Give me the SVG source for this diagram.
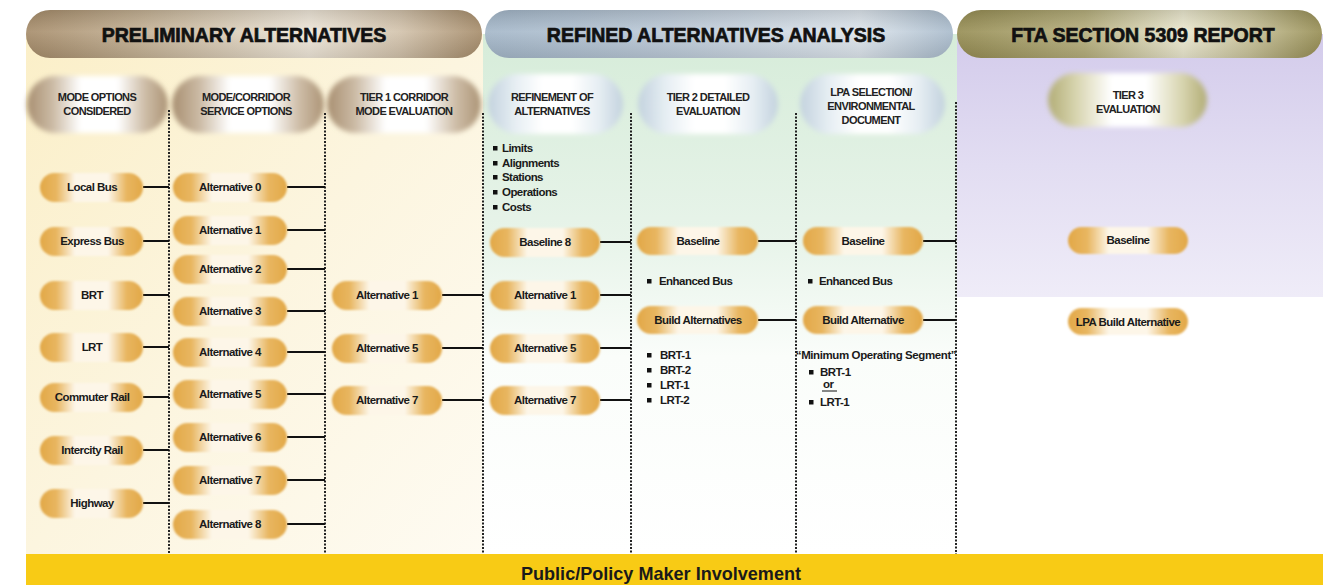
<svg xmlns="http://www.w3.org/2000/svg" width="1323" height="585" viewBox="0 0 1323 585">
<style>
.t{font-family:"Liberation Sans",Arial,sans-serif;font-weight:bold;font-size:11.5px;letter-spacing:-0.55px;fill:#1a1a1a}
.c{text-anchor:middle}
.hd{font-family:"Liberation Sans",Arial,sans-serif;font-weight:bold;font-size:11px;letter-spacing:-0.6px;fill:#222;text-anchor:middle}
.ban{font-family:"Liberation Sans",Arial,sans-serif;font-weight:bold;font-size:19.5px;fill:#111;stroke:#111;stroke-width:0.7;text-anchor:middle}
.pill{fill:url(#gPill);filter:url(#soft)}
.dash{stroke:#222;stroke-width:2;stroke-dasharray:2 1.5;fill:none}
.con line{stroke:#111;stroke-width:2}
.bul{fill:#111}
</style>
<defs>
<filter id="soft" x="-10%" y="-30%" width="120%" height="160%"><feGaussianBlur stdDeviation="0.9"/></filter>
<filter id="softH" x="-10%" y="-20%" width="120%" height="140%"><feGaussianBlur stdDeviation="2.5"/></filter>
<linearGradient id="gPill" x1="0" x2="1" y1="0" y2="0">
<stop offset="0" stop-color="#e2a848"/><stop offset="0.16" stop-color="#e8b660"/><stop offset="0.34" stop-color="#fdf6e8"/><stop offset="0.66" stop-color="#fdf6e8"/><stop offset="0.84" stop-color="#e8b660"/><stop offset="1" stop-color="#e2a848"/>
</linearGradient>
<linearGradient id="gBrown" x1="0" x2="1" y1="0" y2="0">
<stop offset="0" stop-color="#a88f71"/><stop offset="0.18" stop-color="#cbbaa4"/><stop offset="0.38" stop-color="#ffffff"/><stop offset="0.64" stop-color="#ffffff"/><stop offset="0.84" stop-color="#cdbca6"/><stop offset="1" stop-color="#ac9476"/>
</linearGradient>
<linearGradient id="gBlue" x1="0" x2="1" y1="0" y2="0">
<stop offset="0" stop-color="#c3d2de"/><stop offset="0.2" stop-color="#e6eef3"/><stop offset="0.4" stop-color="#ffffff"/><stop offset="0.62" stop-color="#ffffff"/><stop offset="0.82" stop-color="#e6eef3"/><stop offset="1" stop-color="#c3d2de"/>
</linearGradient>
<linearGradient id="gOlive" x1="0" x2="1" y1="0" y2="0">
<stop offset="0" stop-color="#b2ad76"/><stop offset="0.18" stop-color="#d8d5b0"/><stop offset="0.4" stop-color="#ffffff"/><stop offset="0.62" stop-color="#ffffff"/><stop offset="0.84" stop-color="#d8d5b0"/><stop offset="1" stop-color="#b2ad76"/>
</linearGradient>
<linearGradient id="bPre" x1="0" x2="1" y1="0" y2="0">
<stop offset="0" stop-color="#a58b69"/><stop offset="0.25" stop-color="#c3b093"/><stop offset="0.62" stop-color="#eee6d8"/><stop offset="0.82" stop-color="#d2c2ab"/><stop offset="1" stop-color="#a58b69"/>
</linearGradient>
<linearGradient id="bRef" x1="0" x2="1" y1="0" y2="0">
<stop offset="0" stop-color="#a3b6c8"/><stop offset="0.4" stop-color="#bccad8"/><stop offset="0.8" stop-color="#dde5ec"/><stop offset="1" stop-color="#a8bacb"/>
</linearGradient>
<linearGradient id="bFta" x1="0" x2="1" y1="0" y2="0">
<stop offset="0" stop-color="#958c52"/><stop offset="0.35" stop-color="#b5ae7c"/><stop offset="0.62" stop-color="#ebe8cf"/><stop offset="0.8" stop-color="#c9c39a"/><stop offset="1" stop-color="#958c52"/>
</linearGradient>
<linearGradient id="bShade" x1="0" x2="0" y1="0" y2="1">
<stop offset="0" stop-color="#000" stop-opacity="0.12"/><stop offset="0.45" stop-color="#fff" stop-opacity="0.1"/><stop offset="1" stop-color="#000" stop-opacity="0.1"/>
</linearGradient>
<linearGradient id="pLeft" x1="0" x2="1" y1="0" y2="1">
<stop offset="0" stop-color="#fbefc8"/><stop offset="0.5" stop-color="#fcf5df"/><stop offset="1" stop-color="#fefbf2"/>
</linearGradient>
<linearGradient id="pMid" x1="0" x2="0" y1="0" y2="1">
<stop offset="0" stop-color="#d6ecd9"/><stop offset="0.4" stop-color="#e8f4ea"/><stop offset="0.62" stop-color="#fafdfa"/><stop offset="1" stop-color="#ffffff"/>
</linearGradient>
<linearGradient id="pRight" x1="0" x2="0" y1="0" y2="1">
<stop offset="0" stop-color="#d3cbeb"/><stop offset="0.5" stop-color="#e2ddf2"/><stop offset="1" stop-color="#efecf8"/>
</linearGradient>
</defs>

<rect width="1323" height="585" fill="#ffffff"/>

<g id="panels">
<rect x="26" y="34" width="457" height="521" fill="url(#pLeft)"/>
<rect x="483" y="34" width="474" height="521" fill="url(#pMid)"/>
<rect x="957" y="34" width="366" height="263" fill="url(#pRight)"/>
</g>

<g id="banners">
<g id="banner-preliminary">
<rect x="26" y="10" width="456" height="48" rx="24" fill="url(#bPre)"/>
<rect x="26" y="10" width="456" height="48" rx="24" fill="url(#bShade)"/>
<text class="ban" x="244" y="42">PRELIMINARY ALTERNATIVES</text>
</g>
<g id="banner-refined">
<rect x="485" y="10" width="468" height="48" rx="24" fill="url(#bRef)"/>
<rect x="485" y="10" width="468" height="48" rx="24" fill="url(#bShade)"/>
<text class="ban" x="716" y="42">REFINED ALTERNATIVES ANALYSIS</text>
</g>
<g id="banner-fta">
<rect x="957" y="10" width="365" height="48" rx="24" fill="url(#bFta)"/>
<rect x="957" y="10" width="365" height="48" rx="24" fill="url(#bShade)"/>
<text class="ban" x="1143" y="42">FTA SECTION 5309 REPORT</text>
</g>
</g>

<g id="headers">
<g id="hdr-mode-options">
<rect x="27" y="76" width="141" height="57" rx="28.5" fill="url(#gBrown)" filter="url(#softH)"/>
<text class="hd" x="97" y="101">MODE OPTIONS</text>
<text class="hd" x="97" y="115">CONSIDERED</text>
</g>
<g id="hdr-mode-corridor">
<rect x="172" y="76" width="152" height="57" rx="28.5" fill="url(#gBrown)" filter="url(#softH)"/>
<text class="hd" x="246" y="101">MODE/CORRIDOR</text>
<text class="hd" x="246" y="115">SERVICE OPTIONS</text>
</g>
<g id="hdr-tier1">
<rect x="327" y="76" width="154" height="57" rx="28.5" fill="url(#gBrown)" filter="url(#softH)"/>
<text class="hd" x="404" y="101">TIER 1 CORRIDOR</text>
<text class="hd" x="404" y="115">MODE EVALUATION</text>
</g>
<g id="hdr-refinement">
<rect x="488" y="74" width="135" height="60" rx="30" fill="url(#gBlue)" filter="url(#softH)"/>
<text class="hd" x="552" y="101">REFINEMENT OF</text>
<text class="hd" x="552" y="115">ALTERNATIVES</text>
</g>
<g id="hdr-tier2">
<rect x="638" y="74" width="140" height="60" rx="30" fill="url(#gBlue)" filter="url(#softH)"/>
<text class="hd" x="708" y="101">TIER 2 DETAILED</text>
<text class="hd" x="708" y="115">EVALUATION</text>
</g>
<g id="hdr-lpa">
<rect x="800" y="74" width="145" height="60" rx="30" fill="url(#gBlue)" filter="url(#softH)"/>
<text class="hd" x="871" y="96">LPA SELECTION/</text>
<text class="hd" x="871" y="110">ENVIRONMENTAL</text>
<text class="hd" x="871" y="124">DOCUMENT</text>
</g>
<g id="hdr-tier3">
<rect x="1048" y="73" width="159" height="54" rx="27" fill="url(#gOlive)" filter="url(#softH)"/>
<text class="hd" x="1128" y="99">TIER 3</text>
<text class="hd" x="1128" y="113">EVALUATION</text>
</g>
</g>

<g id="dividers">
<line class="dash" x1="169" y1="110" x2="169" y2="554"/>
<line class="dash" x1="325" y1="113" x2="325" y2="554"/>
<line class="dash" x1="483" y1="113" x2="483" y2="554"/>
<line class="dash" x1="631" y1="113" x2="631" y2="554"/>
<line class="dash" x1="796" y1="113" x2="796" y2="554"/>
<line class="dash" x1="956" y1="102" x2="956" y2="554"/>
</g>

<g id="connectors" class="con">
<line x1="143" y1="187" x2="169" y2="187"/>
<line x1="143" y1="241" x2="169" y2="241"/>
<line x1="143" y1="295" x2="169" y2="295"/>
<line x1="143" y1="347" x2="169" y2="347"/>
<line x1="143" y1="397" x2="169" y2="397"/>
<line x1="143" y1="450" x2="169" y2="450"/>
<line x1="143" y1="503" x2="169" y2="503"/>
<line x1="287" y1="187" x2="325" y2="187"/>
<line x1="287" y1="230" x2="325" y2="230"/>
<line x1="287" y1="269" x2="325" y2="269"/>
<line x1="287" y1="311" x2="325" y2="311"/>
<line x1="287" y1="352" x2="325" y2="352"/>
<line x1="287" y1="394" x2="325" y2="394"/>
<line x1="287" y1="437" x2="325" y2="437"/>
<line x1="287" y1="480" x2="325" y2="480"/>
<line x1="287" y1="524" x2="325" y2="524"/>
<line x1="442" y1="295" x2="483" y2="295"/>
<line x1="442" y1="348" x2="483" y2="348"/>
<line x1="442" y1="400" x2="483" y2="400"/>
<line x1="600" y1="242" x2="631" y2="242"/>
<line x1="600" y1="295" x2="631" y2="295"/>
<line x1="600" y1="348" x2="631" y2="348"/>
<line x1="600" y1="400" x2="631" y2="400"/>
<line x1="758" y1="241" x2="796" y2="241"/>
<line x1="758" y1="320" x2="796" y2="320"/>
<line x1="923" y1="241" x2="956" y2="241"/>
<line x1="923" y1="320" x2="956" y2="320"/>
</g>

<g id="mode-options">
<g id="n-local-bus"><rect class="pill" x="40" y="173" width="103" height="29" rx="14.5"/><text class="t c" x="92" y="191">Local Bus</text></g>
<g id="n-express-bus"><rect class="pill" x="40" y="227" width="103" height="29" rx="14.5"/><text class="t c" x="92" y="245">Express Bus</text></g>
<g id="n-brt"><rect class="pill" x="40" y="281" width="103" height="29" rx="14.5"/><text class="t c" x="92" y="299">BRT</text></g>
<g id="n-lrt"><rect class="pill" x="40" y="333" width="103" height="29" rx="14.5"/><text class="t c" x="92" y="351">LRT</text></g>
<g id="n-commuter-rail"><rect class="pill" x="40" y="383" width="103" height="29" rx="14.5"/><text class="t c" x="92" y="401">Commuter Rail</text></g>
<g id="n-intercity-rail"><rect class="pill" x="40" y="436" width="103" height="29" rx="14.5"/><text class="t c" x="92" y="454">Intercity Rail</text></g>
<g id="n-highway"><rect class="pill" x="40" y="489" width="103" height="29" rx="14.5"/><text class="t c" x="92" y="507">Highway</text></g>
</g>

<g id="service-options">
<g id="n-alt0"><rect class="pill" x="173" y="173" width="114" height="29" rx="14.5"/><text class="t c" x="230" y="191">Alternative 0</text></g>
<g id="n-alt1"><rect class="pill" x="173" y="216" width="114" height="29" rx="14.5"/><text class="t c" x="230" y="234">Alternative 1</text></g>
<g id="n-alt2"><rect class="pill" x="173" y="255" width="114" height="29" rx="14.5"/><text class="t c" x="230" y="273">Alternative 2</text></g>
<g id="n-alt3"><rect class="pill" x="173" y="297" width="114" height="29" rx="14.5"/><text class="t c" x="230" y="315">Alternative 3</text></g>
<g id="n-alt4"><rect class="pill" x="173" y="338" width="114" height="29" rx="14.5"/><text class="t c" x="230" y="356">Alternative 4</text></g>
<g id="n-alt5"><rect class="pill" x="173" y="380" width="114" height="29" rx="14.5"/><text class="t c" x="230" y="398">Alternative 5</text></g>
<g id="n-alt6"><rect class="pill" x="173" y="423" width="114" height="29" rx="14.5"/><text class="t c" x="230" y="441">Alternative 6</text></g>
<g id="n-alt7"><rect class="pill" x="173" y="466" width="114" height="29" rx="14.5"/><text class="t c" x="230" y="484">Alternative 7</text></g>
<g id="n-alt8"><rect class="pill" x="173" y="510" width="114" height="29" rx="14.5"/><text class="t c" x="230" y="528">Alternative 8</text></g>
</g>

<g id="tier1">
<g id="t1-alt1"><rect class="pill" x="332" y="281" width="110" height="29" rx="14.5"/><text class="t c" x="387" y="299">Alternative 1</text></g>
<g id="t1-alt5"><rect class="pill" x="332" y="334" width="110" height="29" rx="14.5"/><text class="t c" x="387" y="352">Alternative 5</text></g>
<g id="t1-alt7"><rect class="pill" x="332" y="386" width="110" height="29" rx="14.5"/><text class="t c" x="387" y="404">Alternative 7</text></g>
</g>

<g id="refinement">
<g id="refinement-list">
<rect class="bul" x="493" y="146" width="4.5" height="4.5"/><text class="t" x="502" y="152">Limits</text>
<rect class="bul" x="493" y="161" width="4.5" height="4.5"/><text class="t" x="502" y="167">Alignments</text>
<rect class="bul" x="493" y="175" width="4.5" height="4.5"/><text class="t" x="502" y="181">Stations</text>
<rect class="bul" x="493" y="190" width="4.5" height="4.5"/><text class="t" x="502" y="196">Operations</text>
<rect class="bul" x="493" y="205" width="4.5" height="4.5"/><text class="t" x="502" y="211">Costs</text>
</g>
<g id="r-baseline8"><rect class="pill" x="490" y="228" width="110" height="29" rx="14.5"/><text class="t c" x="545" y="246">Baseline 8</text></g>
<g id="r-alt1"><rect class="pill" x="490" y="281" width="110" height="29" rx="14.5"/><text class="t c" x="545" y="299">Alternative 1</text></g>
<g id="r-alt5"><rect class="pill" x="490" y="334" width="110" height="29" rx="14.5"/><text class="t c" x="545" y="352">Alternative 5</text></g>
<g id="r-alt7"><rect class="pill" x="490" y="386" width="110" height="29" rx="14.5"/><text class="t c" x="545" y="404">Alternative 7</text></g>
</g>

<g id="tier2">
<g id="t2-baseline"><rect class="pill" x="637" y="227" width="121" height="28" rx="14"/><text class="t c" x="698" y="245">Baseline</text></g>
<g id="t2-enhanced"><rect class="bul" x="647" y="279" width="4.5" height="4.5"/><text class="t" x="659" y="285">Enhanced Bus</text></g>
<g id="t2-build"><rect class="pill" x="637" y="306" width="121" height="28" rx="14"/><text class="t c" x="698" y="324">Build Alternatives</text></g>
<g id="t2-list">
<rect class="bul" x="647" y="353" width="4.5" height="4.5"/><text class="t" x="660" y="359">BRT-1</text>
<rect class="bul" x="647" y="368" width="4.5" height="4.5"/><text class="t" x="660" y="374">BRT-2</text>
<rect class="bul" x="647" y="383" width="4.5" height="4.5"/><text class="t" x="660" y="389">LRT-1</text>
<rect class="bul" x="647" y="398" width="4.5" height="4.5"/><text class="t" x="660" y="404">LRT-2</text>
</g>
</g>

<g id="lpa">
<g id="l-baseline"><rect class="pill" x="803" y="227" width="120" height="28" rx="14"/><text class="t c" x="863" y="245">Baseline</text></g>
<g id="l-enhanced"><rect class="bul" x="808" y="279" width="4.5" height="4.5"/><text class="t" x="819" y="285">Enhanced Bus</text></g>
<g id="l-build"><rect class="pill" x="803" y="306" width="120" height="28" rx="14"/><text class="t c" x="863" y="324">Build Alternative</text></g>
<g id="l-mos">
<text class="t c" x="876" y="359" style="letter-spacing:-0.4px">“Minimum Operating Segment”</text>
<rect class="bul" x="809" y="370" width="4.5" height="4.5"/><text class="t" x="820" y="376">BRT-1</text>
<text class="t" x="823" y="388">or</text>
<line x1="822" y1="391" x2="837" y2="391" stroke="#111" stroke-width="1"/>
<rect class="bul" x="809" y="400" width="4.5" height="4.5"/><text class="t" x="820" y="406">LRT-1</text>
</g>
</g>

<g id="tier3">
<g id="t3-baseline"><rect class="pill" x="1068" y="227" width="120" height="27" rx="13.5"/><text class="t c" x="1128" y="244">Baseline</text></g>
<g id="t3-lpa"><rect class="pill" x="1068" y="308" width="120" height="27" rx="13.5"/><text class="t c" x="1128" y="326">LPA Build Alternative</text></g>
</g>

<g id="footer">
<rect x="26" y="554" width="1297" height="31" fill="#f8cb15"/>
<text x="661" y="580" textLength="280" lengthAdjust="spacingAndGlyphs" style="font-family:'Liberation Sans',Arial,sans-serif;font-weight:bold;font-size:19px;fill:#1a1a1a;text-anchor:middle">Public/Policy Maker Involvement</text>
</g>
</svg>
